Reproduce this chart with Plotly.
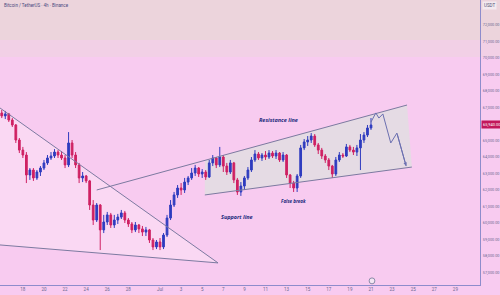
import pandas as pd
import plotly.graph_objects as go

# ---------------- data ----------------
start_time = "2024-06-16 00:00"
first_open = 66670
closes = [66490, 66610, 66240, 65940, 65030, 64420, 64120, 62910, 63210, 62730,
          63090, 63330, 63640, 63940, 64060, 64300, 64120, 63940, 63520, 64850,
          64120, 63520, 62730, 62850, 62550, 61090, 60180, 61090, 59580, 60060,
          60490, 59880, 60180, 60360, 60610, 60180, 59940, 59580, 59880, 59640,
          59450, 59580, 58970, 58550, 58850, 58550, 59270, 60300, 61090, 61700,
          62120, 62000, 62480, 62730, 63030, 63330, 62970, 63090, 62790, 63640,
          63940, 63520, 64000, 63450, 63090, 63640, 62610, 61880, 62240, 62730,
          63210, 63820, 64180, 63940, 64120, 64000, 64240, 64060, 64240, 63820,
          64120, 62910, 62420, 62120, 62850, 64550, 64910, 65030, 65270, 64730,
          64420, 64060, 63820, 63450, 62970, 63820, 64120, 64060, 64610, 64420,
          64300, 64550, 65030, 65330, 65760, 65940]
highs = [66850, 66790, 66670, 66360, 66000, 65150, 64610, 64300, 63330, 63330,
         63210, 63450, 63820, 64120, 64300, 64480, 64420, 64360, 64120, 65510,
         65030, 64300, 63640, 63090, 62910, 62610, 61390, 61210, 61150, 60490,
         60670, 60610, 60490, 60550, 60790, 60730, 60300, 60060, 60060, 59940,
         59820, 59760, 59640, 59090, 58970, 59090, 59390, 60490, 61390, 61880,
         62300, 62420, 62730, 62850, 63330, 63520, 63390, 63270, 63210, 63820,
         64120, 64000, 64610, 64120, 63640, 63820, 63700, 62730, 62480, 62850,
         63390, 64000, 64420, 64300, 64240, 64360, 64420, 64360, 64420, 64300,
         64300, 64180, 62970, 62550, 62970, 64730, 65090, 65270, 65450, 65390,
         64850, 64550, 64180, 63940, 63520, 64000, 64300, 64240, 64790, 64730,
         64610, 64730, 65390, 65510, 65940, 66360]
lows = [66360, 66300, 66120, 65820, 64850, 64240, 63940, 62420, 62610, 62550,
        62610, 62850, 63210, 63520, 63820, 63940, 63940, 63820, 63330, 63390,
        63940, 63330, 62420, 62480, 62420, 60790, 59880, 60060, 58360, 59390,
        59880, 59700, 59700, 59940, 60240, 60000, 59760, 59390, 59450, 59390,
        59210, 59210, 58790, 58360, 58420, 58360, 58420, 59150, 60180, 60970,
        61520, 61700, 61820, 62300, 62610, 62850, 62790, 62730, 62610, 62730,
        63450, 63330, 63390, 63090, 62910, 62970, 62420, 61700, 61640, 62000,
        62610, 63090, 63700, 63820, 63760, 63820, 63880, 63940, 63880, 63700,
        63700, 62730, 62120, 61880, 61880, 62730, 64420, 64670, 64850, 64610,
        64180, 63880, 63640, 63210, 62730, 62850, 63700, 63940, 64000, 64300,
        64120, 64060, 63210, 64850, 65210, 65640]
opens = [first_open] + closes[:-1]
times = pd.date_range(start_time, periods=len(closes), freq="8h")

tick_dates = ["2024-06-16", "2024-06-18", "2024-06-20", "2024-06-22", "2024-06-24",
              "2024-06-26", "2024-06-28", "2024-07-01", "2024-07-03", "2024-07-05",
              "2024-07-07", "2024-07-09", "2024-07-11", "2024-07-13", "2024-07-15",
              "2024-07-17", "2024-07-19", "2024-07-21", "2024-07-23", "2024-07-25",
              "2024-07-27", "2024-07-29"]
tick_text = ["16", "18", "20", "22", "24", "26", "28", "Jul", "3", "5", "7", "9",
             "11", "13", "15", "17", "19", "21", "23", "25", "27", "29"]
price_ticks = [57000, 58000, 59000, 60000, 61000, 62000, 63000, 64000, 65000,
               66000, 67000, 68000, 69000, 70000, 71000, 72000]

# drawings
res_t = ["2024-06-25 00:00", "2024-07-24 10:00"]
res_p = [62000, 67150]
sup_t = ["2024-07-05 06:00", "2024-07-24 21:00"]
sup_p = [61700, 63390]
chan_t = ["2024-07-05 06:00", "2024-07-24 10:00", "2024-07-24 21:00", "2024-07-05 06:00"]
chan_p = [63794, 67150, 63390, 61700]
wedge_t = ["2024-06-15 20:00", "2024-07-06 12:00", "2024-06-15 20:00"]
wedge_hi_p = [66970, 57580]
wedge_lo_p = [58670, 57580]
proj_t = ["2024-07-21 00:00", "2024-07-21 11:00", "2024-07-21 18:00", "2024-07-22 03:00",
          "2024-07-22 21:00", "2024-07-23 11:00", "2024-07-24 08:00"]
proj_p = [66120, 66670, 66360, 66610, 64850, 65450, 63450]

x_range = ["2024-06-15 20:00", "2024-07-31 08:00"]
y_range = [56242, 73515]

BG = "#f8cbf0"
LINE = "#7c7aa0"


def path_of(ts, ps):
    pts = [f"{t.replace(' ', '_')},{p}" for t, p in zip(ts, ps)]
    return "M " + " L ".join(pts) + " Z"


fig = go.Figure()

for tt, pp in [(res_t, res_p), (sup_t, sup_p),
               (wedge_t[:2], wedge_hi_p), (wedge_t[:2], wedge_lo_p)]:
    fig.add_trace(go.Scatter(x=tt, y=pp, mode="lines",
                             line=dict(color=LINE, width=1),
                             hoverinfo="skip", showlegend=False))

fig.add_trace(go.Candlestick(
    x=times, open=opens, high=highs, low=lows, close=closes,
    increasing=dict(line=dict(color="#2f3cbf", width=1), fillcolor="#2f3cbf"),
    decreasing=dict(line=dict(color="#cf2163", width=1), fillcolor="#cf2163"),
    whiskerwidth=0, showlegend=False))

fig.add_trace(go.Scatter(x=proj_t, y=proj_p, mode="lines",
                         line=dict(color="#6b6fb0", width=1),
                         hoverinfo="skip", showlegend=False))

fig.add_annotation(x=proj_t[-1], y=proj_p[-1], ax=proj_t[-2], ay=proj_p[-2],
                   axref="x", ayref="y", xref="x", yref="y", text="",
                   showarrow=True, arrowhead=2, arrowsize=0.7, arrowwidth=1,
                   arrowcolor="#6b6fb0")

# text labels
fig.add_annotation(x="2024-07-12 06:00", y=66240, text="<b><i>Resistance line</i></b>",
                   showarrow=False, font=dict(family="Open Sans", size=5.5, color="#1c2a7c"))
fig.add_annotation(x="2024-07-08 07:00", y=60360, text="<b><i>Support line</i></b>",
                   showarrow=False, font=dict(family="Open Sans", size=5.5, color="#1c2a7c"))
fig.add_annotation(x="2024-07-13 16:00", y=61330, text="<b><i>False break</i></b>",
                   showarrow=False, font=dict(family="Open Sans", size=4.5, color="#1c2a7c"))

# title
fig.add_annotation(xref="paper", yref="paper", x=0.004, y=0.995, xanchor="left", yanchor="top",
                   text="Bitcoin / TetherUS · 4h · Binance", showarrow=False,
                   font=dict(family="Roboto", size=4.5, color="#4a4a80"))
# currency box
fig.add_annotation(xref="paper", yref="paper", x=1.005, y=0.995, xanchor="left", yanchor="top",
                   text="USDT", showarrow=False, bgcolor="#f3eaf0", borderpad=1,
                   font=dict(family="Roboto", size=4.5, color="#555577"))
# last price label
fig.add_annotation(xref="paper", yref="y", x=1.002, y=closes[-1], xanchor="left",
                   text=f"{closes[-1]:,.2f}", showarrow=False, bgcolor="#c2185b",
                   borderpad=1, font=dict(family="Roboto", size=4, color="white"))

shapes = [
    dict(type="rect", xref="paper", yref="paper", x0=0, x1=1.05, y0=0.86, y1=1.0,
         fillcolor="#ecd4dc", line_width=0, layer="below"),
    dict(type="rect", xref="paper", yref="paper", x0=0, x1=1.05, y0=0.80, y1=0.86,
         fillcolor="#f2d0e6", line_width=0, layer="below"),
    dict(type="path", xref="x", yref="y",
         path=path_of(wedge_t, [wedge_hi_p[0], wedge_hi_p[1], wedge_lo_p[0]]),
         fillcolor="rgba(255,240,250,0.35)", line_width=0, layer="below"),
    dict(type="path", xref="x", yref="y", path=path_of(chan_t, chan_p),
         fillcolor="rgba(226,222,226,0.85)", line_width=0, layer="below"),
    dict(type="circle", xref="paper", yref="paper", x0=0.769, x1=0.781, y0=0.004, y1=0.025,
         line=dict(color="#8a8aa8", width=1), fillcolor="#f3e6f3", layer="above"),
]

fig.update_layout(
    width=500, height=295,
    margin=dict(l=0, r=20, t=0, b=10),
    paper_bgcolor=BG, plot_bgcolor=BG,
    shapes=shapes,
    showlegend=False,
    xaxis=dict(type="date", range=x_range, rangeslider=dict(visible=False),
               showgrid=False, zeroline=False, showline=True, linecolor="#8e8ccc",
               linewidth=1, tickvals=tick_dates, ticktext=tick_text, ticks="",
               tickfont=dict(family="Roboto", size=4.5, color="#6a6a90"),
               automargin=False, fixedrange=True),
    yaxis=dict(side="right", range=y_range, showgrid=False, zeroline=False,
               showline=True, linecolor="#8e8ccc", linewidth=1,
               tickvals=price_ticks, ticktext=[f"{v:,.2f}" for v in price_ticks],
               ticks="", ticklabelstandoff=1,
               tickfont=dict(family="Roboto", size=3.8, color="#6a6a90"),
               automargin=False, fixedrange=True),
)

fig.write_html("out.html")
